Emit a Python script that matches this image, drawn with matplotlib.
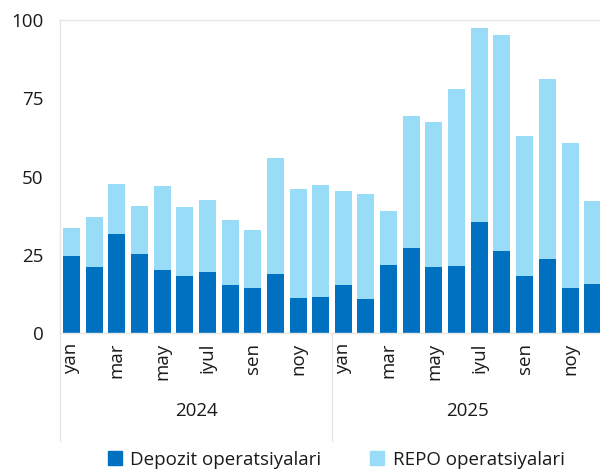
import matplotlib
matplotlib.use("Agg")
import matplotlib.pyplot as plt
import numpy as np
from matplotlib.patches import Patch
from matplotlib.lines import Line2D

plt.rcParams['font.family'] = ['Open Sans', 'DejaVu Sans']

months = ["yan", "fev", "mar", "apr", "may", "iyun", "iyul", "avg", "sen", "okt", "noy", "dek"] * 2
years = ["2024", "2025"]
depozit = [24.7, 21.2, 31.5, 25.2, 20.1, 18.1, 19.6, 15.3, 14.3, 19.0, 11.3, 11.4,
           15.3, 10.9, 21.6, 27.2, 21.2, 21.3, 35.6, 26.1, 18.3, 23.7, 14.5, 15.7]
total = [33.4, 37.1, 47.6, 40.6, 47.0, 40.3, 42.5, 36.1, 33.0, 55.8, 45.9, 47.2,
         45.5, 44.5, 39.1, 69.2, 67.4, 78.0, 97.5, 95.3, 62.8, 81.0, 60.6, 42.1]
repo = [round(t - d, 1) for t, d in zip(total, depozit)]
series_names = ["Depozit operatsiyalari", "REPO operatsiyalari"]

dark = "#0070C0"
light = "#99DCF7"
grid_c = "#E6E6E6"
txt_c = "#1A1A1A"
fs = 13.5

fig = plt.figure(figsize=(6, 4.7), dpi=100)
ax = fig.add_axes([60/600, 137/470, 544/600, 313/470])

x = np.arange(len(depozit))
ax.bar(x, depozit, width=0.75, color=dark, linewidth=0)
ax.bar(x, repo, bottom=depozit, width=0.75, color=light, linewidth=0)

ax.set_xlim(-0.5, len(x) - 0.5)
ax.set_ylim(0, 100)
ax.set_yticks([0, 25, 50, 75, 100])
ax.tick_params(axis='y', length=0, pad=12, labelsize=fs, colors=txt_c)
ax.set_xticks(x[::2])
ax.set_xticklabels(months[::2], rotation=90, fontsize=fs, color=txt_c)
ax.tick_params(axis='x', length=0, pad=7)

for s in ['top', 'left', 'bottom', 'right']:
    ax.spines[s].set_color(grid_c)
    ax.spines[s].set_linewidth(1)

# year group labels and dividers
for i, yr in enumerate(years):
    ax.text((i * 12 - 0.5 + i * 12 + 11.5) / 2, -0.25, yr, transform=ax.get_xaxis_transform(),
            ha='center', va='center', fontsize=fs, color=txt_c)
for xb in [-0.5, 11.5, 23.5]:
    ax.add_line(Line2D([xb, xb], [0, -0.345], transform=ax.get_xaxis_transform(),
                       color=grid_c, linewidth=1, clip_on=False))

handles = [Patch(color=dark), Patch(color=light)]
fig.legend(handles, series_names, loc='center', bbox_to_anchor=(0.56, 0.022),
           ncol=2, frameon=False, fontsize=fs, handlelength=0.75, handleheight=0.75,
           columnspacing=2.6, handletextpad=0.45, labelcolor=txt_c)

fig.savefig("out.png", dpi=100)
